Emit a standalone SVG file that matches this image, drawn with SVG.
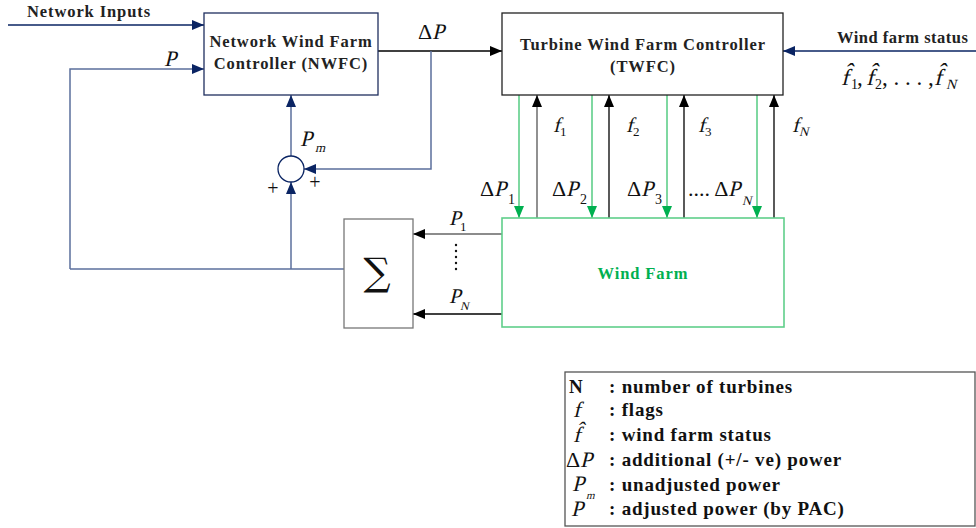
<svg xmlns="http://www.w3.org/2000/svg" width="976" height="528" viewBox="0 0 976 528">
<defs>
<marker id="aNavy" viewBox="0 0 12 10" refX="12" refY="5" markerWidth="12" markerHeight="10" markerUnits="userSpaceOnUse" orient="auto"><path d="M0,0 L12,5 L0,10 z" fill="#0a2463"/></marker>
<marker id="aBlack" viewBox="0 0 12 10" refX="12" refY="5" markerWidth="12" markerHeight="10" markerUnits="userSpaceOnUse" orient="auto"><path d="M0,0 L12,5 L0,10 z" fill="#000"/></marker>
<marker id="aGreen" viewBox="0 0 12 10" refX="12" refY="5" markerWidth="12" markerHeight="10" markerUnits="userSpaceOnUse" orient="auto"><path d="M0,0 L12,5 L0,10 z" fill="#00b050"/></marker>
</defs>
<style>
.box{fill:#fff;stroke:#1f2f5f;stroke-width:1.3}
.bold{font-family:"Liberation Serif",serif;font-weight:bold;font-size:16.5px;letter-spacing:0.9px;fill:#222}
.m{font-family:"Liberation Serif",serif;fill:#111}
.navy{stroke:#0a2463;stroke-width:1.3;fill:none}
.blue{stroke:#5b6f9c;stroke-width:1.5;fill:none}
.blk{stroke:#000;stroke-width:1.3;fill:none}
.grn{stroke:#5fcf8a;stroke-width:1.6;fill:none}
.leg{font-family:"Liberation Serif",serif;font-weight:bold;font-size:19px;letter-spacing:0.8px;fill:#111}
</style>
<g id="connectors">
<line class="navy" x1="8" y1="25" x2="204" y2="25" marker-end="url(#aNavy)"/>
<polyline class="blue" points="70,269 70,69 204,69" marker-end="url(#aNavy)"/>
<line class="blue" x1="70" y1="269" x2="344" y2="269"/>
<line class="blue" x1="291" y1="269" x2="291" y2="182" marker-end="url(#aNavy)"/>
<line class="blue" x1="291" y1="156" x2="291" y2="95" marker-end="url(#aNavy)"/>
<line class="blk" x1="378" y1="51" x2="502" y2="51" marker-end="url(#aBlack)"/>
<polyline class="blue" points="431,51 431,169 304,169" marker-end="url(#aNavy)"/>
<line class="navy" x1="976" y1="51" x2="783" y2="51" marker-end="url(#aNavy)"/>
<line stroke="#666" stroke-width="1.5" x1="502" y1="234" x2="413" y2="234" marker-end="url(#aBlack)"/>
<line class="blk" x1="502" y1="314" x2="413" y2="314" marker-end="url(#aBlack)"/>
<line class="grn" x1="519" y1="95" x2="519" y2="218" marker-end="url(#aGreen)"/>
<line class="grn" x1="592" y1="95" x2="592" y2="218" marker-end="url(#aGreen)"/>
<line class="grn" x1="667" y1="95" x2="667" y2="218" marker-end="url(#aGreen)"/>
<line class="grn" x1="757" y1="95" x2="757" y2="218" marker-end="url(#aGreen)"/>
<line stroke="#555" stroke-width="1.3" x1="537" y1="218" x2="537" y2="95" marker-end="url(#aBlack)"/>
<line class="blk" x1="609" y1="218" x2="609" y2="95" marker-end="url(#aBlack)"/>
<line class="blk" x1="684" y1="218" x2="684" y2="95" marker-end="url(#aBlack)"/>
<line class="blk" x1="774" y1="218" x2="774" y2="95" marker-end="url(#aBlack)"/>
</g>
<g id="nwfc">
<rect class="box" x="204" y="13" width="174" height="82"/>
<text class="bold" x="291" y="47" text-anchor="middle">Network Wind Farm</text>
<text class="bold" x="291" y="69" text-anchor="middle">Controller (NWFC)</text>
</g>
<g id="twfc">
<rect x="502" y="13" width="281" height="82" fill="#fff" stroke="#222" stroke-width="1.3"/>
<text class="bold" x="643" y="50" text-anchor="middle">Turbine Wind Farm Controller</text>
<text class="bold" x="643" y="72" text-anchor="middle">(TWFC)</text>
</g>
<g id="sum-junction">
<circle cx="291" cy="169" r="13" fill="#fff" stroke="#0a2463" stroke-width="1.3"/>
<text class="m" x="273" y="195" font-size="20" text-anchor="middle">+</text>
<text class="m" x="315" y="189" font-size="20" text-anchor="middle">+</text>
</g>
<g id="sigma">
<rect x="344" y="219" width="69" height="109" fill="#fff" stroke="#777" stroke-width="1.3"/>
<text x="377" y="285" font-family="DejaVu Serif,serif" font-size="38" fill="#111" text-anchor="middle">∑</text>
</g>
<g id="windfarm">
<rect x="502" y="218" width="282" height="109" fill="#fff" stroke="#5fcf8a" stroke-width="1.6"/>
<text x="643" y="279" font-family="Liberation Serif,serif" font-weight="bold" font-size="16.5" letter-spacing="0.9" fill="#00b050" text-anchor="middle">Wind Farm</text>
</g>
<g id="labels">
<text class="bold" x="27" y="17">Network Inputs</text>
<text class="m" font-size="22" transform="translate(164,66) skewX(-14)">P</text>
<text class="m" font-size="22" x="418" y="39">Δ</text>
<text class="m" font-size="22" transform="translate(432,39) skewX(-14)">P</text>
<text class="m" font-size="22" transform="translate(300,146) skewX(-14)">P</text>
<text class="m" font-size="13" transform="translate(315,152) skewX(-14)">m</text>
<text class="bold" x="837" y="43" style="letter-spacing:0.5px">Wind farm status</text>
<text class="m" font-size="23" transform="translate(841,85) skewX(-14)">f̂</text>
<text class="m" font-size="14" x="851" y="89">1</text>
<text class="m" font-size="23" x="857" y="85">,</text>
<text class="m" font-size="23" transform="translate(866,85) skewX(-14)">f̂</text>
<text class="m" font-size="14" x="875" y="89">2</text>
<text class="m" font-size="23" x="882" y="85">, . . . ,</text>
<text class="m" font-size="23" transform="translate(934,85) skewX(-14)">f̂</text>
<text class="m" font-size="14" transform="translate(946,89) skewX(-14)">N</text>
<text class="m" font-size="21" transform="translate(553,132) skewX(-14)">f</text>
<text class="m" font-size="13" x="560" y="136">1</text>
<text class="m" font-size="21" transform="translate(626,132) skewX(-14)">f</text>
<text class="m" font-size="13" x="633" y="136">2</text>
<text class="m" font-size="21" transform="translate(698,132) skewX(-14)">f</text>
<text class="m" font-size="13" x="705" y="136">3</text>
<text class="m" font-size="21" transform="translate(792,132) skewX(-14)">f</text>
<text class="m" font-size="13" transform="translate(799,136) skewX(-14)">N</text>
<text class="m" font-size="22" x="480" y="196">Δ</text>
<text class="m" font-size="22" transform="translate(494,196) skewX(-14)">P</text>
<text class="m" font-size="14" x="508" y="204">1</text>
<text class="m" font-size="22" x="552" y="196">Δ</text>
<text class="m" font-size="22" transform="translate(566,196) skewX(-14)">P</text>
<text class="m" font-size="14" x="580" y="204">2</text>
<text class="m" font-size="22" x="627" y="196">Δ</text>
<text class="m" font-size="22" transform="translate(641,196) skewX(-14)">P</text>
<text class="m" font-size="14" x="655" y="204">3</text>
<text class="m" font-size="22" x="688" y="196">.... Δ</text>
<text class="m" font-size="22" transform="translate(728,196) skewX(-14)">P</text>
<text class="m" font-size="13" transform="translate(742,205) skewX(-14)">N</text>
<text class="m" font-size="21" transform="translate(449,225) skewX(-14)">P</text>
<text class="m" font-size="13" x="460" y="231">1</text>
<text class="m" font-size="21" transform="translate(449,303) skewX(-14)">P</text>
<text class="m" font-size="12" transform="translate(460,310) skewX(-14)">N</text>
<g fill="#111"><circle cx="456" cy="245" r="1.2"/><circle cx="456" cy="251" r="1.2"/><circle cx="456" cy="257" r="1.2"/><circle cx="456" cy="263" r="1.2"/><circle cx="456" cy="269" r="1.2"/></g>
</g>
<g id="legend">
<rect x="565" y="372" width="410" height="154" fill="#fff" stroke="#555" stroke-width="1.3"/>
<text class="leg" x="569" y="393">N</text>
<text class="leg" x="609" y="393">: number of turbines</text>
<text class="m" font-size="22" transform="translate(573,417) skewX(-14)">f</text>
<text class="leg" x="609" y="416">: flags</text>
<text class="m" font-size="22" transform="translate(573,442) skewX(-14)">f̂</text>
<text class="leg" x="609" y="441">: wind farm status</text>
<text class="m" font-size="22" x="566" y="467">Δ</text>
<text class="m" font-size="22" transform="translate(580,467) skewX(-14)">P</text>
<text class="leg" x="609" y="466">: additional (+/- ve) power</text>
<text class="m" font-size="22" transform="translate(572,491) skewX(-14)">P</text>
<text class="m" font-size="11" transform="translate(586,499) skewX(-14)">m</text>
<text class="leg" x="609" y="491">: unadjusted power</text>
<text class="m" font-size="22" transform="translate(571,516) skewX(-14)">P</text>
<text class="leg" x="609" y="515">: adjusted power (by PAC)</text>
</g>
</svg>
